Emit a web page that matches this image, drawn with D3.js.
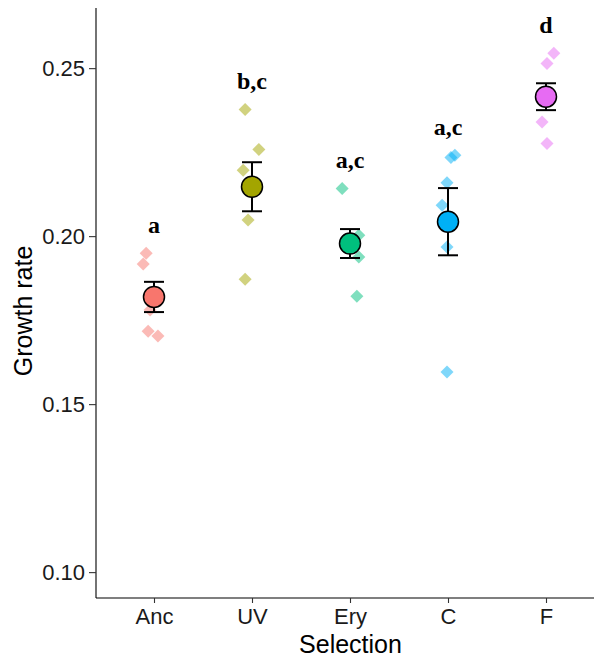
<!DOCTYPE html>
<html>
<head>
<meta charset="utf-8">
<script src="https://cdn.jsdelivr.net/npm/d3@7"></script>
<style>
  html, body { margin: 0; padding: 0; background: #fff; }
  svg { display: block; }
</style>
</head>
<body>
<svg id="chart" width="594" height="659"></svg>
<script>
// Selection lines and their growth-rate replicates
const categories = ["Anc", "UV", "Ery", "C", "F"];
const colors = ["#F8766D", "#A3A500", "#00BF7D", "#00B0F6", "#E76BF3"];

const replicates = [
  [0.1949, 0.1917, 0.1780, 0.1717, 0.1703],
  [0.2377, 0.2258, 0.2196, 0.2048, 0.1872],
  [0.2142, 0.2003, 0.1938, 0.1821],
  [0.2241, 0.2234, 0.2159, 0.2092, 0.1968, 0.1596],
  [0.2544, 0.2514, 0.2340, 0.2276]
];
// horizontal jitter of each replicate, in category widths
const jitter = [
  [-0.08, -0.11, -0.04, -0.06, 0.04],
  [-0.07, 0.07, -0.09, -0.04, -0.07],
  [-0.08, 0.09, 0.09, 0.07],
  [0.07, 0.03, -0.01, -0.06, -0.01, -0.01],
  [0.08, 0.01, -0.04, 0.01]
];

const means = [0.1819, 0.2147, 0.1978, 0.2043, 0.2415];
const errors = [0.0045, 0.0073, 0.0043, 0.0100, 0.0040];
const groupLetters = ["a", "b,c", "a,c", "a,c", "d"];

const yTicks = [0.10, 0.15, 0.20, 0.25];
const yDomain = [0.0923, 0.2679];

const svg = d3.select("#chart");
const panel = { left: 96, right: 605, top: 8, bottom: 598 };

const x = d3.scalePoint().domain(categories).range([154, 546]);
const step = x.step();
const y = d3.scaleLinear().domain(yDomain).range([panel.bottom, panel.top]);

svg.append("defs").append("clipPath").attr("id", "panel-clip")
  .append("rect").attr("x", panel.left).attr("y", panel.top)
  .attr("width", panel.right - panel.left).attr("height", panel.bottom - panel.top);

const plot = svg.append("g").attr("clip-path", "url(#panel-clip)");

// replicate diamonds
const diamond = s => `M0,${-s}L${s},0L0,${s}L${-s},0Z`;
categories.forEach((cat, i) => {
  plot.append("g").selectAll("path")
    .data(replicates[i].map((v, j) => ({ v, j: jitter[i][j] })))
    .join("path")
    .attr("d", diamond(6.5))
    .attr("transform", d => `translate(${x(cat) + d.j * step},${y(d.v)})`)
    .attr("fill", colors[i])
    .attr("fill-opacity", 0.5);
});

// error bars
const cap = 10;
categories.forEach((cat, i) => {
  const cx = x(cat), lo = y(means[i] - errors[i]), hi = y(means[i] + errors[i]);
  const g = plot.append("g").attr("stroke", "#000").attr("stroke-width", 2).attr("fill", "none");
  g.append("line").attr("x1", cx).attr("x2", cx).attr("y1", lo).attr("y2", hi);
  g.append("line").attr("x1", cx - cap).attr("x2", cx + cap).attr("y1", lo).attr("y2", lo);
  g.append("line").attr("x1", cx - cap).attr("x2", cx + cap).attr("y1", hi).attr("y2", hi);
});

// group means
plot.append("g").selectAll("circle")
  .data(categories)
  .join("circle")
  .attr("cx", d => x(d))
  .attr("cy", (d, i) => y(means[i]))
  .attr("r", 10.5)
  .attr("fill", (d, i) => colors[i])
  .attr("stroke", "#000")
  .attr("stroke-width", 1.5);

// significance letters above each group
plot.append("g").selectAll("text")
  .data(categories)
  .join("text")
  .attr("x", d => x(d))
  .attr("y", (d, i) => y(d3.max(replicates[i])) - 20)
  .attr("text-anchor", "middle")
  .attr("font-family", "'Liberation Serif', 'Times New Roman', serif")
  .attr("font-weight", "bold")
  .attr("font-size", 24)
  .attr("fill", "#000")
  .text((d, i) => groupLetters[i]);

// axes
const yAxis = svg.append("g")
  .attr("transform", `translate(${panel.left},0)`)
  .call(d3.axisLeft(y).tickValues(yTicks).tickFormat(d3.format(".2f")).tickSize(7).tickPadding(4));
yAxis.select(".domain").attr("d", `M0,${panel.top}V${panel.bottom}`);

const xAxis = svg.append("g")
  .attr("transform", `translate(0,${panel.bottom})`)
  .call(d3.axisBottom(x).tickSize(5).tickPadding(5));
xAxis.select(".domain").attr("d", `M${panel.left},0H${panel.right}`);

[yAxis, xAxis].forEach(a => {
  a.select(".domain").attr("stroke", "#000").attr("stroke-width", 1.1);
  a.selectAll(".tick line").attr("stroke", "#333").attr("stroke-width", 1.1);
  a.selectAll(".tick text")
    .attr("font-family", "'Liberation Sans', Arial, sans-serif")
    .attr("font-size", 22)
    .attr("fill", "#1a1a1a");
});

// axis titles
svg.append("text")
  .attr("x", (panel.left + panel.right) / 2)
  .attr("y", 653)
  .attr("text-anchor", "middle")
  .attr("font-family", "'Liberation Sans', Arial, sans-serif")
  .attr("font-size", 25)
  .attr("fill", "#000")
  .text("Selection");

svg.append("text")
  .attr("transform", `translate(32,311) rotate(-90)`)
  .attr("text-anchor", "middle")
  .attr("font-family", "'Liberation Sans', Arial, sans-serif")
  .attr("font-size", 25)
  .attr("fill", "#000")
  .text("Growth rate");
</script>
</body>
</html>
